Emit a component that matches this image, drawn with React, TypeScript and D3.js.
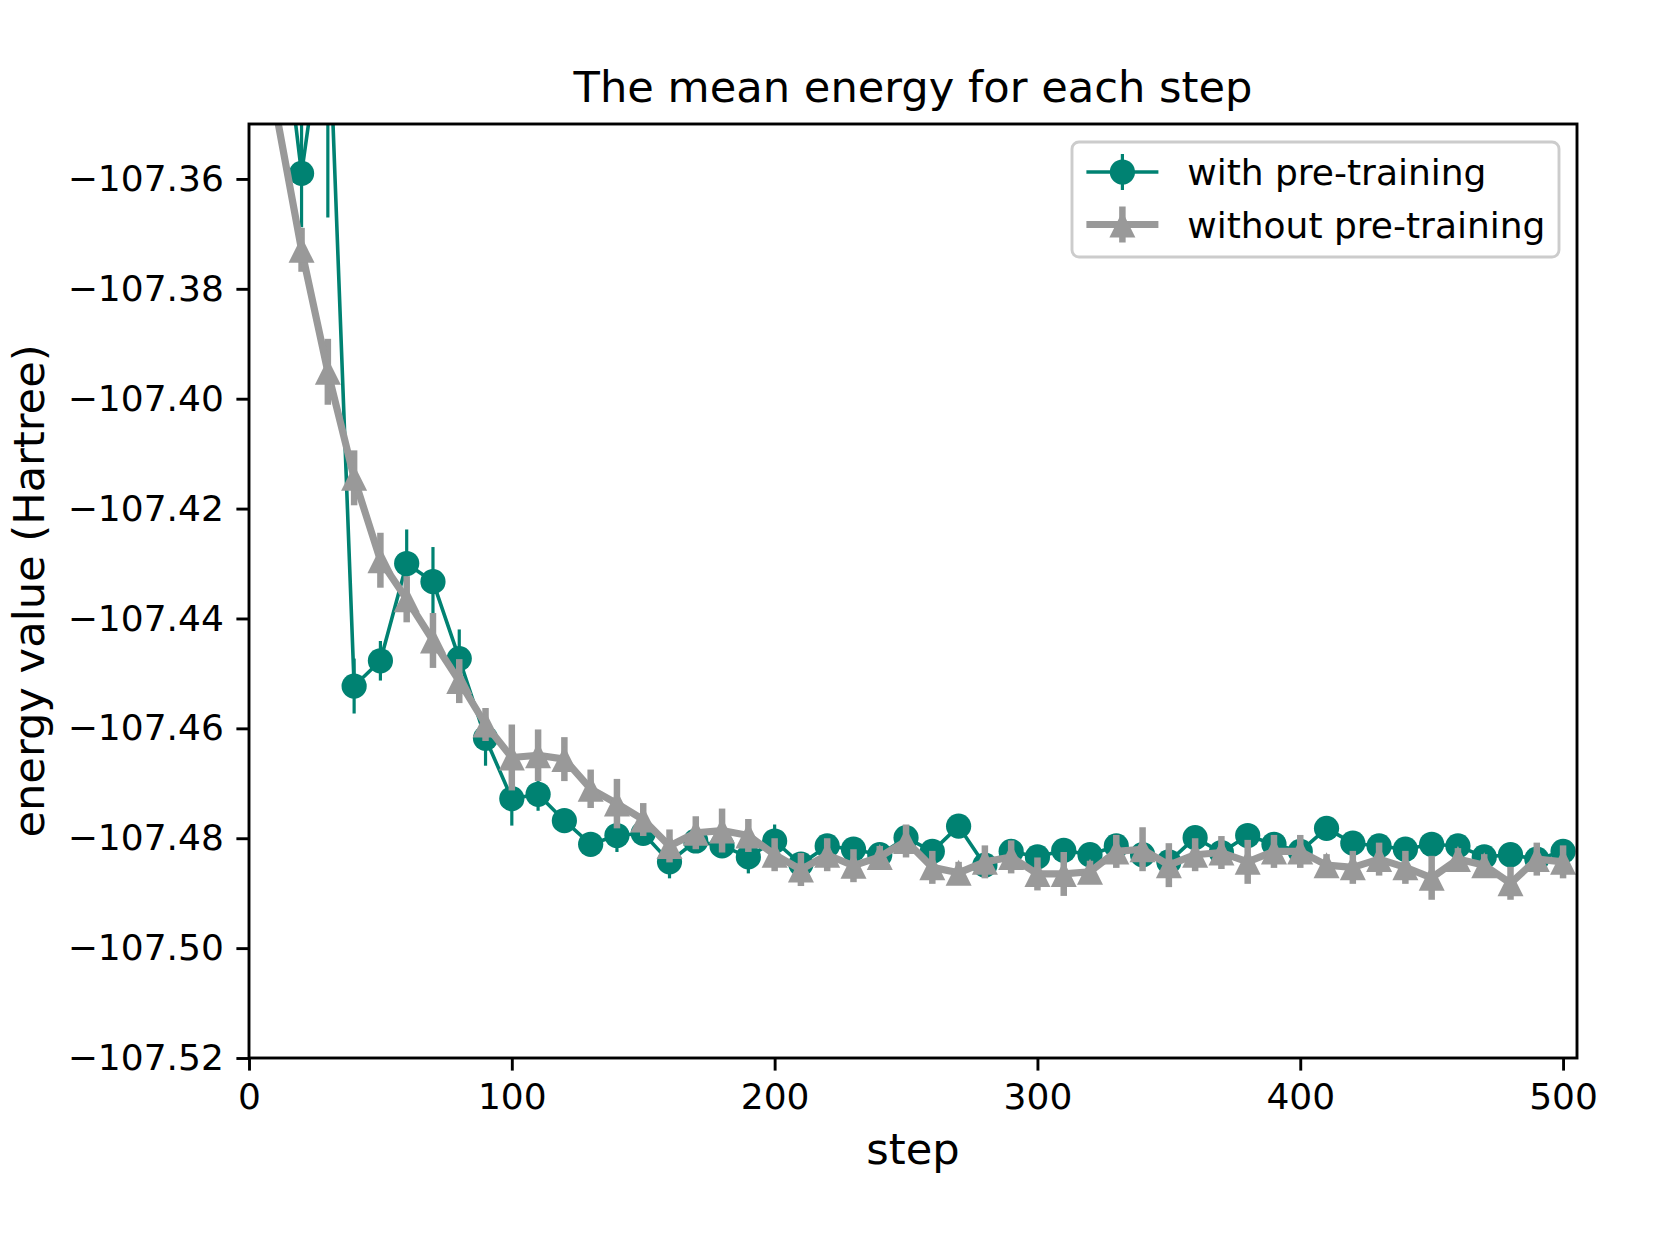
import { useEffect, useRef } from "react";
import * as d3 from "d3";

// steps on the x axis
const steps = [
  10, 20, 30, 40, 50, 60, 70, 80, 90, 100, 110, 120, 130, 140, 150, 160, 170,
  180, 190, 200, 210, 220, 230, 240, 250, 260, 270, 280, 290, 300, 310, 320,
  330, 340, 350, 360, 370, 380, 390, 400, 410, 420, 430, 440, 450, 460, 470,
  480, 490, 500,
];

// with pre-training (teal, circles)
const withPre = [
  -107.319, -107.359, -107.325, -107.4523, -107.4477, -107.43, -107.4333,
  -107.4473, -107.4618, -107.4728, -107.472, -107.4768, -107.4811, -107.4795,
  -107.4791, -107.4843, -107.4805, -107.4814, -107.4834, -107.4805, -107.4847,
  -107.4814, -107.482, -107.483, -107.4799, -107.4824, -107.4778, -107.4849,
  -107.4824, -107.4834, -107.4822, -107.483, -107.4814, -107.483, -107.4843,
  -107.4799, -107.4826, -107.4795, -107.4811, -107.4824, -107.4782, -107.4809,
  -107.4814, -107.482, -107.4811, -107.4814, -107.4834, -107.483, -107.4838,
  -107.4824,
];
const withPreErr = [
  0.01, 0.0098, 0.042, 0.005, 0.0036, 0.0062, 0.0063, 0.0053, 0.005, 0.0049,
  0.003, 0.002, 0.002, 0.003, 0.002, 0.003, 0.002, 0.002, 0.003, 0.003, 0.002,
  0.002, 0.002, 0.002, 0.002, 0.002, 0.002, 0.002, 0.002, 0.002, 0.002, 0.002,
  0.002, 0.002, 0.002, 0.002, 0.002, 0.002, 0.002, 0.002, 0.002, 0.002, 0.002,
  0.002, 0.002, 0.002, 0.002, 0.002, 0.002, 0.002,
];

// without pre-training (grey, triangles)
const withoutPre = [
  -107.347, -107.3729, -107.3951, -107.4144, -107.4294, -107.4365, -107.444,
  -107.4514, -107.4593, -107.4653, -107.4649, -107.4656, -107.471, -107.4737,
  -107.4766, -107.4814, -107.479, -107.4786, -107.4795, -107.483, -107.4857,
  -107.483, -107.485, -107.4834, -107.4805, -107.4853, -107.4863, -107.4843,
  -107.4834, -107.4865, -107.4865, -107.4861, -107.4824, -107.482, -107.4849,
  -107.483, -107.4826, -107.4843, -107.4824, -107.4824, -107.4849, -107.4853,
  -107.4838, -107.4853, -107.4872, -107.4838, -107.4849, -107.4882, -107.4838,
  -107.4843,
];
const withoutPreErr = [
  0.003, 0.004, 0.006, 0.005, 0.005, 0.0042, 0.005, 0.004, 0.003, 0.006,
  0.0047, 0.004, 0.0035, 0.0045, 0.003, 0.003, 0.003, 0.004, 0.003, 0.003,
  0.003, 0.003, 0.003, 0.002, 0.003, 0.003, 0.002, 0.003, 0.003, 0.003, 0.004,
  0.002, 0.003, 0.004, 0.004, 0.003, 0.003, 0.004, 0.003, 0.003, 0.002, 0.003,
  0.003, 0.003, 0.004, 0.002, 0.002, 0.003, 0.003, 0.003,
];

const xTicks = [0, 100, 200, 300, 400, 500];
const yTicks = [
  -107.52, -107.5, -107.48, -107.46, -107.44, -107.42, -107.4, -107.38, -107.36,
];

const TEAL = "#008272";
const GREY = "#999999";
const FONT = "DejaVu Sans, sans-serif";

const App = () => {
  const ref = useRef(null);

  useEffect(() => {
    const W = 1660;
    const H = 1245;
    const margin = { top: 124, right: 83, bottom: 187, left: 249 };

    const svg = d3.select(ref.current);
    svg.selectAll("*").remove();
    svg.attr("width", W).attr("height", H).attr("viewBox", [0, 0, W, H]);

    const x = d3
      .scaleLinear()
      .domain([0, 505.3])
      .range([margin.left, W - margin.right]);
    const y = d3
      .scaleLinear()
      .domain([-107.52, -107.35])
      .range([H - margin.bottom, margin.top]);

    svg.append("rect").attr("width", W).attr("height", H).attr("fill", "#fff");

    svg
      .append("defs")
      .append("clipPath")
      .attr("id", "plotclip")
      .append("rect")
      .attr("x", margin.left)
      .attr("y", margin.top)
      .attr("width", W - margin.left - margin.right)
      .attr("height", H - margin.top - margin.bottom);

    const plot = svg.append("g").attr("clip-path", "url(#plotclip)");

    const series = [
      {
        vals: withPre,
        errs: withPreErr,
        color: TEAL,
        lw: 3.6,
        elw: 3.2,
        marker: "circle",
      },
      {
        vals: withoutPre,
        errs: withoutPreErr,
        color: GREY,
        lw: 7.2,
        elw: 6.5,
        marker: "triangle",
      },
    ];

    const triPath = (s) => `M0,${-s / 2}L${-s / 2},${s / 2}L${s / 2},${s / 2}Z`;

    series.forEach((s) => {
      const pts = steps.map((st, i) => ({ st, v: s.vals[i], e: s.errs[i] }));
      const g = plot.append("g");

      // error bars
      g.selectAll(".eb")
        .data(pts)
        .join("line")
        .attr("x1", (d) => x(d.st))
        .attr("x2", (d) => x(d.st))
        .attr("y1", (d) => y(d.v - d.e))
        .attr("y2", (d) => y(d.v + d.e))
        .attr("stroke", s.color)
        .attr("stroke-width", s.elw);

      const line = d3
        .line()
        .x((d) => x(d.st))
        .y((d) => y(d.v));

      g.append("path")
        .datum(pts)
        .attr("d", line)
        .attr("fill", "none")
        .attr("stroke", s.color)
        .attr("stroke-width", s.lw)
        .attr("stroke-linejoin", "round");

      if (s.marker === "circle") {
        g.selectAll(".m")
          .data(pts)
          .join("circle")
          .attr("cx", (d) => x(d.st))
          .attr("cy", (d) => y(d.v))
          .attr("r", 12.6)
          .attr("fill", s.color);
      } else {
        g.selectAll(".m")
          .data(pts)
          .join("path")
          .attr("transform", (d) => `translate(${x(d.st)},${y(d.v)})`)
          .attr("d", triPath(26))
          .attr("fill", s.color);
      }
    });

    // axes frame
    const frame = svg.append("g");
    frame
      .append("rect")
      .attr("x", margin.left)
      .attr("y", margin.top)
      .attr("width", W - margin.left - margin.right)
      .attr("height", H - margin.top - margin.bottom)
      .attr("fill", "none")
      .attr("stroke", "#000")
      .attr("stroke-width", 2.9);

    const xAxis = svg
      .append("g")
      .attr("transform", `translate(0,${H - margin.bottom})`)
      .call(
        d3
          .axisBottom(x)
          .tickValues(xTicks)
          .tickSize(12.6)
          .tickPadding(12.6)
          .tickFormat(d3.format("d"))
      );
    xAxis.select(".domain").remove();
    xAxis.selectAll(".tick line").attr("stroke-width", 2.9);
    xAxis
      .selectAll(".tick text")
      .attr("font-family", FONT)
      .attr("font-size", 36)
      .attr("fill", "#000");

    const yAxis = svg
      .append("g")
      .attr("transform", `translate(${margin.left},0)`)
      .call(
        d3
          .axisLeft(y)
          .tickValues(yTicks)
          .tickSize(12.6)
          .tickPadding(12.6)
          .tickFormat((d) => d3.format(".2f")(d).replace("-", "\u2212"))
      );
    yAxis.select(".domain").remove();
    yAxis.selectAll(".tick line").attr("stroke-width", 2.9);
    yAxis
      .selectAll(".tick text")
      .attr("font-family", FONT)
      .attr("font-size", 36)
      .attr("fill", "#000");

    const cx = (margin.left + W - margin.right) / 2;
    const cy = (margin.top + H - margin.bottom) / 2;

    svg
      .append("text")
      .attr("x", cx)
      .attr("y", 102)
      .attr("text-anchor", "middle")
      .attr("font-family", FONT)
      .attr("font-size", 43.2)
      .text("The mean energy for each step");

    svg
      .append("text")
      .attr("x", cx)
      .attr("y", 1164)
      .attr("text-anchor", "middle")
      .attr("font-family", FONT)
      .attr("font-size", 43.2)
      .text("step");

    svg
      .append("text")
      .attr("transform", `translate(44,${cy}) rotate(-90)`)
      .attr("text-anchor", "middle")
      .attr("font-family", FONT)
      .attr("font-size", 43.2)
      .text("energy value (Hartree)");

    // legend
    const legend = svg.append("g");
    const lx = 1072;
    const ly = 142;
    legend
      .append("rect")
      .attr("x", lx)
      .attr("y", ly)
      .attr("width", 1559 - lx)
      .attr("height", 115)
      .attr("rx", 7)
      .attr("fill", "rgba(255,255,255,0.8)")
      .attr("stroke", "#cccccc")
      .attr("stroke-width", 2.9);

    const labels = ["with pre-training", "without pre-training"];
    series.forEach((s, i) => {
      const ry = 172 + i * 52.5;
      const hx0 = lx + 14.4;
      const hx1 = hx0 + 72;
      const hc = (hx0 + hx1) / 2;
      legend
        .append("line")
        .attr("x1", hx0)
        .attr("x2", hx1)
        .attr("y1", ry)
        .attr("y2", ry)
        .attr("stroke", s.color)
        .attr("stroke-width", s.lw);
      legend
        .append("line")
        .attr("x1", hc)
        .attr("x2", hc)
        .attr("y1", ry - 18)
        .attr("y2", ry + 18)
        .attr("stroke", s.color)
        .attr("stroke-width", s.elw);
      if (s.marker === "circle") {
        legend
          .append("circle")
          .attr("cx", hc)
          .attr("cy", ry)
          .attr("r", 12.6)
          .attr("fill", s.color);
      } else {
        legend
          .append("path")
          .attr("transform", `translate(${hc},${ry})`)
          .attr("d", triPath(26))
          .attr("fill", s.color);
      }
      legend
        .append("text")
        .attr("x", hx1 + 28.8)
        .attr("y", ry + 13)
        .attr("font-family", FONT)
        .attr("font-size", 36)
        .text(labels[i]);
    });
  }, []);

  return (
    <div style={{ position: "absolute", left: 0, top: 0 }}>
      <svg ref={ref} style={{ display: "block" }}></svg>
    </div>
  );
};

export default App;
